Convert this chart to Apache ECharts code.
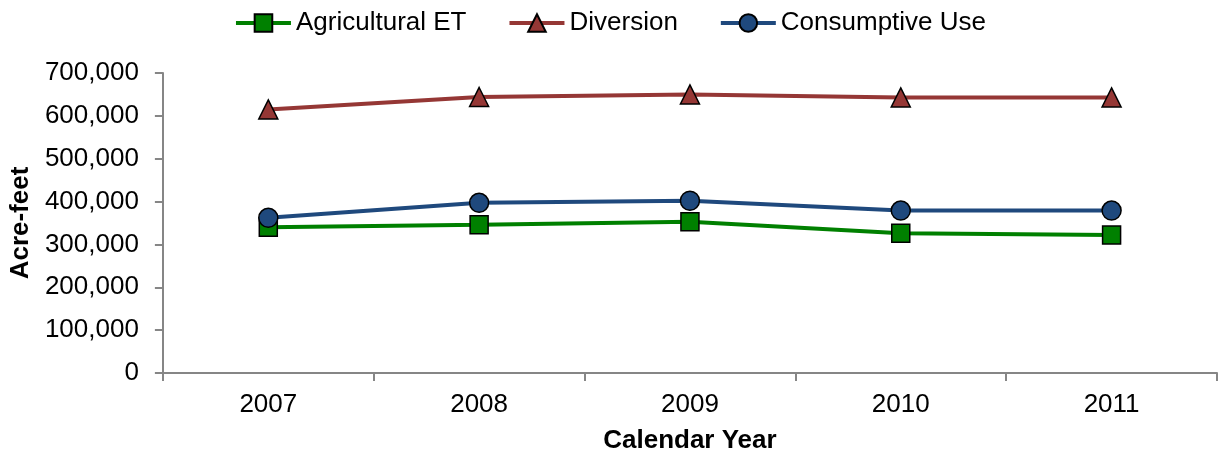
<!DOCTYPE html>
<html>
<head>
<meta charset="utf-8">
<script src="https://cdn.jsdelivr.net/npm/echarts@6/dist/echarts.min.js"></script>
<style>
  html, body { margin: 0; padding: 0; background: #fff; }
  #chart { width: 1220px; height: 459px; }
</style>
</head>
<body>
<div id="chart"></div>
<script>
// Annual water budget, acre-feet
const years = ['2007', '2008', '2009', '2010', '2011'];
const agriculturalET = [340000, 346000, 353000, 326000, 322000];
const diversion = [615000, 644000, 650000, 643000, 643000];
const consumptiveUse = [362000, 397000, 402000, 379000, 379000];

const font = 'Liberation Sans, Arial, sans-serif';
const axisGray = '#868686';

function lineSeries(name, data, color, symbol, size) {
  return {
    name: name,
    type: 'line',
    data: data,
    symbol: symbol,
    symbolSize: size,
    lineStyle: { color: color, width: 4 },
    itemStyle: { color: color, borderColor: '#000', borderWidth: 1.5 },
    emphasis: { disabled: true },
    z: 2
  };
}

const chart = echarts.init(document.getElementById('chart'), null, { renderer: 'canvas' });
chart.setOption({
  animation: false,
  backgroundColor: '#fff',
  legend: {
    top: 5,
    left: 'center',
    itemWidth: 55,
    itemHeight: 22,
    itemGap: 41,
    lineStyle: { width: 4 },
    textStyle: { fontFamily: font, fontSize: 26, color: '#000' },
    data: ['Agricultural ET', 'Diversion', 'Consumptive Use']
  },
  grid: { left: 161, right: 3, top: 73, bottom: 82, containLabel: false },
  xAxis: {
    type: 'category',
    data: years,
    boundaryGap: true,
    name: 'Calendar Year',
    nameLocation: 'middle',
    nameGap: 55,
    nameTextStyle: { fontFamily: font, fontSize: 26, fontWeight: 'bold', color: '#000' },
    axisLine: { lineStyle: { color: axisGray, width: 2 } },
    axisTick: { show: true, length: 8, alignWithLabel: false, lineStyle: { color: axisGray, width: 2 } },
    axisLabel: { fontFamily: font, fontSize: 26, color: '#000', margin: 19 }
  },
  yAxis: {
    type: 'value',
    min: 0,
    max: 700000,
    interval: 100000,
    name: 'Acre-feet',
    nameLocation: 'middle',
    nameGap: 128,
    nameTextStyle: { fontFamily: font, fontSize: 26, fontWeight: 'bold', color: '#000' },
    axisLine: { show: true, lineStyle: { color: axisGray, width: 2 } },
    axisTick: { show: true, length: 8, lineStyle: { color: axisGray, width: 2 } },
    splitLine: { show: false },
    axisLabel: {
      fontFamily: font, fontSize: 26, color: '#000', margin: 24,
      formatter: function (v) { return v.toLocaleString('en-US'); }
    }
  },
  series: [
    lineSeries('Agricultural ET', agriculturalET, '#008000', 'rect', 18),
    lineSeries('Diversion', diversion, '#953735', 'triangle', 19),
    lineSeries('Consumptive Use', consumptiveUse, '#1F497D', 'circle', 19)
  ]
});
</script>
</body>
</html>
